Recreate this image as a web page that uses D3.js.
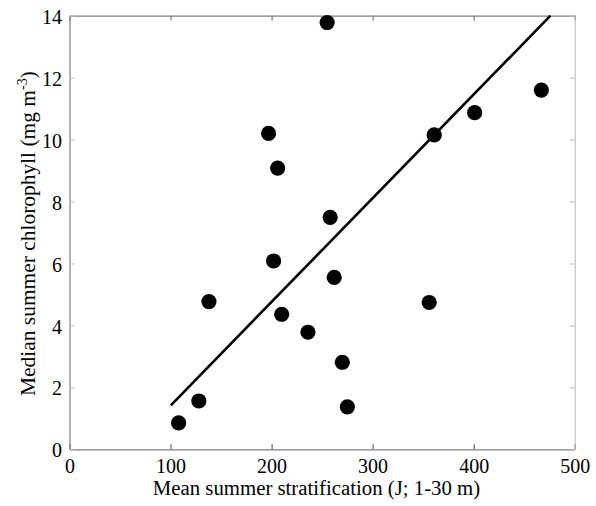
<!DOCTYPE html>
<html>
<head>
<meta charset="utf-8">
<script src="https://cdn.jsdelivr.net/npm/d3@7"></script>
<style>
  html, body { margin: 0; padding: 0; background: #fff; }
  svg { display: block; }
  text { font-family: "Liberation Serif", "Times New Roman", serif; fill: #000; }
</style>
</head>
<body>
<svg id="chart" width="596" height="506"></svg>
<script>
// Data: mean summer stratification (J; 1-30 m) vs median summer chlorophyll (mg m-3)
const stratification = [108, 128, 138, 197, 206, 202, 210, 236, 255, 258, 262, 270, 275, 356, 361, 401, 467];
const chlorophyll   = [0.85, 1.56, 4.77, 10.2, 9.08, 6.08, 4.36, 3.78, 13.78, 7.49, 5.55, 2.81, 1.37, 4.74, 10.15, 10.87, 11.6];
// Regression line endpoints (x, y)
const fitX = [100.3, 476];
const fitY = [1.42, 14.0];
const xTicks = [0, 100, 200, 300, 400, 500];
const yTicks = [0, 2, 4, 6, 8, 10, 12, 14];
const xTitle = "Mean summer stratification (J; 1-30 m)";
const yTitle = "Median summer chlorophyll (mg m";

(function () {
const svg = d3.select("#chart");
const mLeft = 69.5, mRight = 574.7, mTop = 15.7, mBottom = 449.3;
const x = d3.scaleLinear().domain([0, 500]).range([mLeft, mRight]);
const y = d3.scaleLinear().domain([0, 14]).range([mBottom, mTop]);
const fs = 20;
const serif = "Liberation Serif, Times New Roman, serif";

const axisColor = "#7f7f7f";
// bottom axis
const xAxis = d3.axisBottom(x).tickValues(xTicks).tickSizeInner(-5).tickSizeOuter(0).tickPadding(9.5);
const gx = svg.append("g").attr("transform", `translate(0,${mBottom})`).call(xAxis);
gx.attr("font-family", serif);
gx.select(".domain").attr("stroke", axisColor).attr("stroke-width", 1.2);
gx.selectAll(".tick line").attr("stroke", "#444");
gx.selectAll(".tick text").attr("font-size", fs).attr("fill", "#000");

// top axis (ticks only)
const xAxisTop = d3.axisTop(x).tickValues(xTicks).tickSizeInner(-5).tickSizeOuter(0).tickFormat("");
const gxt = svg.append("g").attr("transform", `translate(0,${mTop})`).call(xAxisTop);
gxt.select(".domain").attr("stroke", axisColor).attr("stroke-width", 1.2);
gxt.selectAll(".tick line").attr("stroke", "#666");

// left axis
const yAxis = d3.axisLeft(y).tickValues(yTicks).tickSizeInner(-5).tickSizeOuter(0).tickPadding(7.5);
const gy = svg.append("g").attr("transform", `translate(${mLeft},0)`).call(yAxis);
gy.attr("font-family", serif);
gy.select(".domain").attr("stroke", axisColor).attr("stroke-width", 1.2);
gy.selectAll(".tick line").attr("stroke", "#bbb");
gy.selectAll(".tick text").attr("font-size", fs).attr("fill", "#000").attr("dy", "0.38em");

// right axis (ticks only)
const yAxisR = d3.axisRight(y).tickValues(yTicks).tickSizeInner(-5).tickSizeOuter(0).tickFormat("");
const gyr = svg.append("g").attr("transform", `translate(${mRight},0)`).call(yAxisR);
gyr.select(".domain").attr("stroke", "#b8b8b8").attr("stroke-width", 1);
gyr.selectAll(".tick line").attr("stroke", "#bbb");

// Regression line
svg.append("line")
  .attr("x1", x(fitX[0])).attr("y1", y(fitY[0]))
  .attr("x2", x(fitX[1])).attr("y2", y(fitY[1]))
  .attr("stroke", "#000").attr("stroke-width", 2.6);

// Points
svg.append("g").selectAll("circle")
  .data(stratification.map((d, i) => [d, chlorophyll[i]]))
  .join("circle")
  .attr("cx", d => x(d[0])).attr("cy", d => y(d[1]))
  .attr("r", 7.6).attr("fill", "#000");

// Axis titles
svg.append("text")
  .attr("x", 316.5).attr("y", 495)
  .attr("text-anchor", "middle").attr("font-size", 20.8)
  .attr("font-family", serif)
  .text(xTitle);

const yt = svg.append("text")
  .attr("transform", `translate(35,396) rotate(-90)`)
  .attr("text-anchor", "start").attr("font-size", 21)
  .attr("font-family", serif);
yt.append("tspan").attr("textLength", 306).attr("lengthAdjust", "spacingAndGlyphs").text(yTitle);
yt.append("tspan").attr("dy", -8).attr("font-size", 14).text("-3");
yt.append("tspan").attr("dy", 8).text(")");
})();
</script>
</body>
</html>
